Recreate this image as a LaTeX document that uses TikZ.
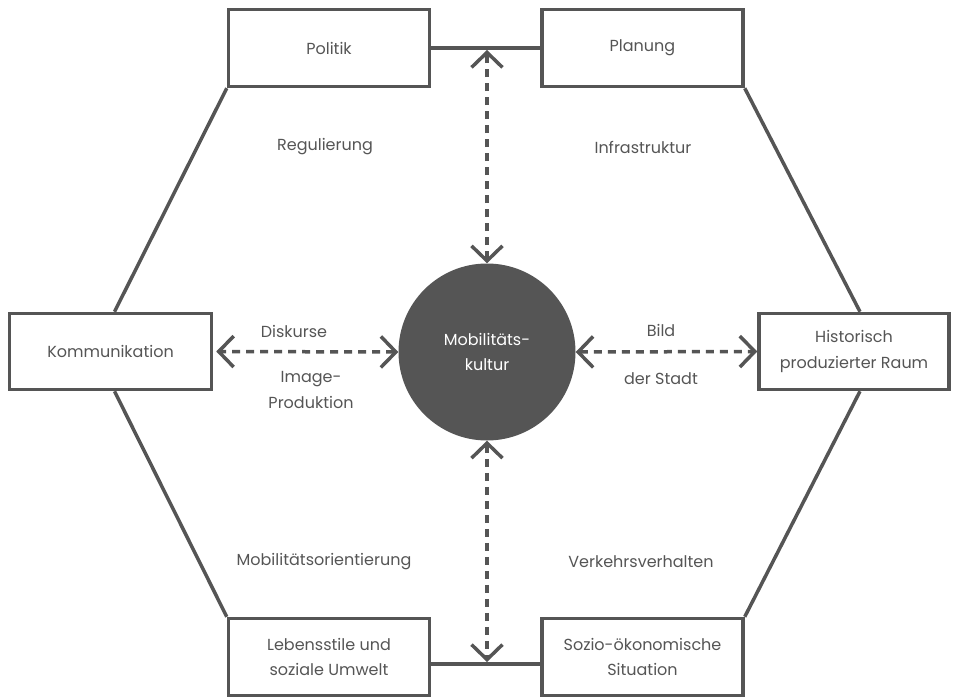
\documentclass[tikz,border=0pt]{standalone}
\usepackage{fontspec}
\setmainfont{Poppins}
\usetikzlibrary{arrows.meta}
\definecolor{dunkel}{HTML}{555555}
\begin{document}
\begin{tikzpicture}[x=1pt, y=-1pt, font=\fontsize{16}{25.5}\selectfont, text=dunkel,
  blk/.style={draw=dunkel, line width=3.5pt, fill=white, align=center, minimum width=201pt, minimum height=77pt, inner sep=0pt},
  edge/.style={draw=dunkel, line width=3.5pt},
  dar/.style={draw=dunkel, line width=3.5pt, dash pattern=on 8pt off 6pt, {Straight Barb[length=15pt, width=31pt]}-{Straight Barb[length=15pt, width=31pt]}}]
  \useasboundingbox (0,0) rectangle (959,698);
  % six fields round the hexagon
  \node[blk] (pol) at (329,48) {Politik};
  \node[blk] (plan) at (642.5,48) {Planung};
  \node[blk, minimum width=202pt, minimum height=76pt] (komm) at (110.5,351.5) {Kommunikation};
  \node[blk, minimum width=190pt, minimum height=76pt] (hist) at (854,351.5) {Historisch\\produzierter Raum};
  \node[blk] (leb) at (329,657) {Lebensstile und\\soziale Umwelt};
  \node[blk] (sozio) at (642.5,657) {Sozio-ökonomische\\Situation};
  % centre
  \node[circle, fill=dunkel, minimum size=177pt, inner sep=0pt, text=white, align=center] (kult) at (487,352) {Mobilitäts-\\kultur};
  \coordinate (obenmitte) at (487,50);
  \coordinate (untenmitte) at (487,662);
  % hexagon outline
  \draw[edge] (pol.east) -- (plan.west);
  \draw[edge] ([yshift=-7pt]leb.east) -- ([yshift=-7pt]sozio.west);
  \draw[edge] (pol.south west) -- ([xshift=4pt]komm.north);
  \draw[edge] ([xshift=4pt]komm.south) -- (leb.north west);
  \draw[edge] (plan.south east) -- ([xshift=6pt]hist.north);
  \draw[edge] ([xshift=6pt]hist.south) -- (sozio.north east);
  % dashed relations
  \draw[dar] (kult.north) -- (obenmitte);
  \draw[dar] (kult.south) -- (untenmitte);
  \draw[dar, shorten >=3pt] (kult.west) -- (komm.east);
  \draw[dar] (kult.east) -- (hist.west);
  % labels
  \node (reg) at (325,147) {Regulierung};
  \node (infra) at (643,147) {Infrastruktur};
  \node (disk) at (294,331) {Diskurse};
  \node[align=center] (image) at (311,390) {Image-\\Produktion};
  \node (bild) at (661,330) {Bild};
  \node (stadt) at (661,379) {der Stadt};
  \node (orient) at (324,562) {Mobilitätsorientierung};
  \node (verhalten) at (641,562) {Verkehrsverhalten};
\end{tikzpicture}
\end{document}
